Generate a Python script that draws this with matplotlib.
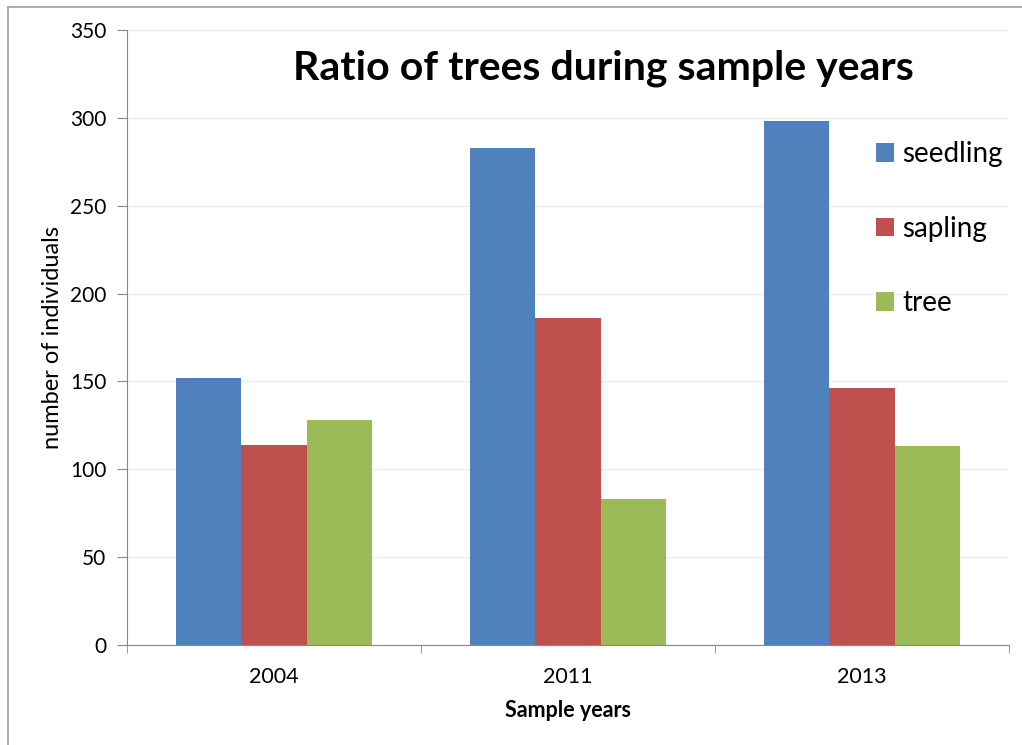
import numpy as np
import matplotlib.pyplot as plt
from matplotlib.lines import Line2D

# sample data: number of individuals per growth stage
years = ['2004', '2011', '2013']
seedling = [152, 283, 298]
sapling = [114, 186, 146]
tree = [128, 83, 113]

series = [('seedling', seedling, '#4F81BD'),
          ('sapling', sapling, '#C0504D'),
          ('tree', tree, '#9BBB59')]

plt.rcParams['font.family'] = ['Lato', 'DejaVu Sans']

W, H = 1022, 745
fig = plt.figure(figsize=(W / 100, H / 100), dpi=100)
ax = fig.add_axes([127 / W, 1 - 645 / H, 882 / W, 615 / H])

x = np.arange(len(years))
width = 0.223
for i, (name, vals, color) in enumerate(series):
    ax.bar(x + (i - 1) * width, vals, width, color=color, label=name, zorder=3)

ax.set_xlim(-0.5, len(years) - 0.5)
ax.set_ylim(0, 350)
ax.set_yticks(np.arange(0, 351, 50))
ax.grid(axis='y', color='#ececec', linewidth=1, zorder=0)

# category labels sit between boundary ticks
ax.set_xticks(x)
ax.set_xticklabels(years, fontsize=15.5)
ax.set_xticks(np.arange(-0.5, len(years), 1), minor=True)
ax.tick_params(axis='x', which='major', length=0, pad=16)
ax.tick_params(axis='x', which='minor', length=6, color='#888888', direction='out')
ax.tick_params(axis='y', length=7, color='#888888', labelsize=15, pad=8)

for s in ['top', 'right']:
    ax.spines[s].set_visible(False)
for s in ['left', 'bottom']:
    ax.spines[s].set_color('#888888')

ax.set_ylabel('number of individuals', fontsize=17, labelpad=5)
ax.set_xlabel('Sample years', fontsize=15.5, fontweight='bold', labelpad=9)

fig.text(603 / W, 1 - 68 / H, 'Ratio of trees during sample years',
         fontsize=29.5, fontweight='bold', ha='center', va='center')

ax.legend(loc='upper left', bbox_to_anchor=(876 / W, 1 - 141 / H),
          bbox_transform=fig.transFigure, frameon=False, fontsize=20,
          handlelength=0.65, handleheight=0.65, handletextpad=0.3,
          labelspacing=1.75, borderpad=0, borderaxespad=0)

# outer chart border
fig.add_artist(Line2D([8 / W, 1], [1 - 7 / H, 1 - 7 / H], color='#a0a0a0', linewidth=1.2))
fig.add_artist(Line2D([8 / W, 8 / W], [0, 1 - 7 / H], color='#a0a0a0', linewidth=1.2))

fig.savefig('out.png', dpi=100)
